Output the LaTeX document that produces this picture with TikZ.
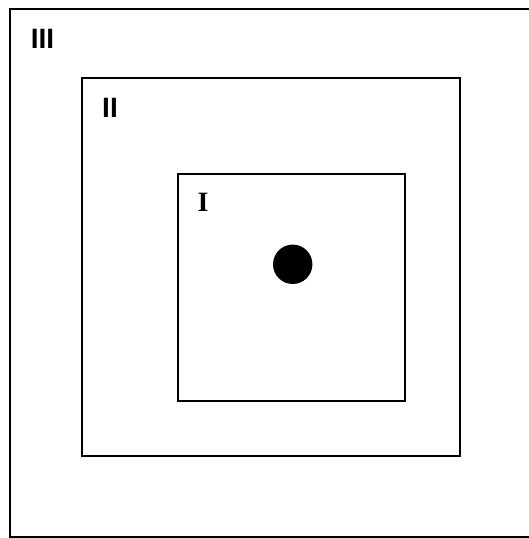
\documentclass[tikz,border=0pt]{standalone}
\usepackage{fontspec}
\setmainfont{Liberation Serif}
\newfontfamily\labsans{Liberation Sans}
\tikzset{
  box/.style={draw=black, line width=2pt},
  sanslab/.style={anchor=base, inner sep=0pt, font=\labsans\bfseries\fontsize{28}{28}\selectfont},
  seriflab/.style={anchor=base, inner sep=0pt, font=\bfseries\fontsize{28}{28}\selectfont},
}
\begin{document}
\begin{tikzpicture}[x=1pt, y=-1pt]
  \useasboundingbox (0,0) rectangle (529,538);
  \fill[white] (0,0) rectangle (529,538);
  \begin{scope}
    \clip (0,0) rectangle (529,538);
    \draw[box] (10,9) rectangle (535,536.5);
  \end{scope}
  \draw[box] (82,78) rectangle (460,456);
  \draw[box] (178,174) rectangle (404.5,400.5);
  \fill[black] (292.7,264.3) circle (19.7);
  \node[sanslab] (l3) at (42.5,48) {III};
  \node[sanslab] (l2) at (110,117) {II};
  \node[seriflab] (l1) at (203,211) {I};
\end{tikzpicture}
\end{document}
